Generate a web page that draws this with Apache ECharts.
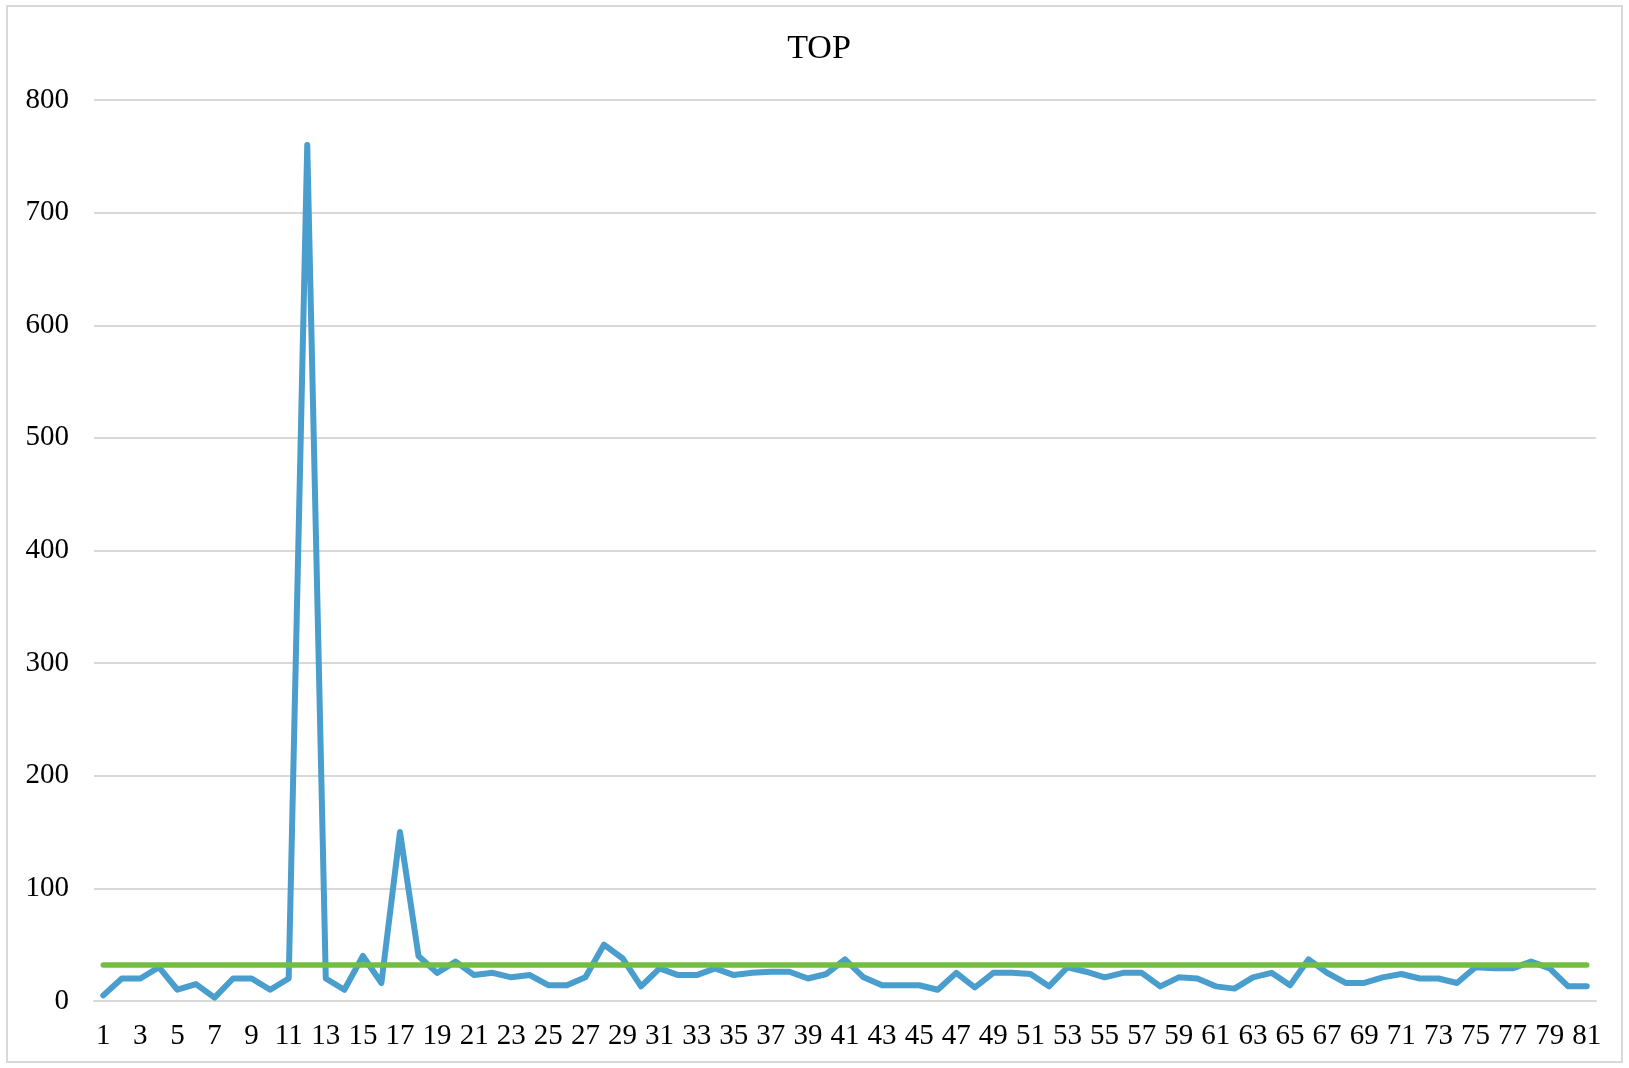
<!DOCTYPE html>
<html>
<head>
<meta charset="utf-8">
<script src="https://cdn.jsdelivr.net/npm/echarts@6/dist/echarts.min.js"></script>
<style>html,body{margin:0;padding:0;background:#fff;}#c{width:1629px;height:1068px;}</style>
</head>
<body>
<div id="c"></div>
<script>
var categories = [];
for (var i = 1; i <= 81; i++) categories.push(String(i));
var topValues = [5,20,20,30,10,15,3,20,20,10,20,760,20,10,40,16,150,40,25,35,
  23,25,21,23,14,14,21,50,38,13,29,23,23,29,23,25,26,26,20,24,
  37,21,14,14,14,10,25,12,25,25,24,13,30,26,21,25,25,13,21,20,
  13,11,21,25,14,37,25,16,16,21,24,20,20,16,30,29,29,35,29,13,13];
var avgValues = [32,32,32,32,32,32,32,32,32,32,32,32,32,32,32,32,32,32,32,32,
  32,32,32,32,32,32,32,32,32,32,32,32,32,32,32,32,32,32,32,32,
  32,32,32,32,32,32,32,32,32,32,32,32,32,32,32,32,32,32,32,32,
  32,32,32,32,32,32,32,32,32,32,32,32,32,32,32,32,32,32,32,32,32];
var yTicks = [0,100,200,300,400,500,600,700,800];

var chart = echarts.init(document.getElementById('c'), null, {renderer:'canvas'});
var font = '"Liberation Serif", "Times New Roman", serif';
chart.setOption({
  animation: false,
  backgroundColor: '#fff',
  graphic: [{
    type: 'rect', shape: {x: 7, y: 6, width: 1615, height: 1056},
    style: {fill: 'none', stroke: '#d9d9d9', lineWidth: 2}, silent: true, z: -1
  }],
  title: {
    text: 'TOP', left: 814, top: 27, textAlign: 'center',
    textStyle: {fontFamily: font, fontSize: 34, fontWeight: 'normal', color: '#000'}
  },
  grid: {left: 94, right: 33, top: 100, bottom: 67, containLabel: false},
  xAxis: {
    type: 'category', data: categories, boundaryGap: true,
    axisLine: {show: true, lineStyle: {color: '#d9d9d9', width: 2}},
    axisTick: {show: false},
    axisLabel: {interval: 1, fontFamily: font, fontSize: 29, color: '#000', margin: 21}
  },
  yAxis: {
    type: 'value', min: 0, max: 800, interval: 100,
    axisLine: {show: false}, axisTick: {show: false},
    axisLabel: {fontFamily: font, fontSize: 29, color: '#000', margin: 25,
      formatter: function(v){ return yTicks.indexOf(v) >= 0 ? String(v) : ''; }},
    splitLine: {lineStyle: {color: '#d9d9d9', width: 2}}
  },
  series: [{
    name: 'TOP', type: 'line', data: topValues, symbol: 'none',
    lineStyle: {color: '#4a9ecd', width: 6, cap: 'round', join: 'round'}
  }, {
    name: 'avg', type: 'line', data: avgValues, symbol: 'none',
    lineStyle: {color: '#72bf40', width: 5.5, cap: 'round'}
  }]
});
</script>
</body>
</html>
